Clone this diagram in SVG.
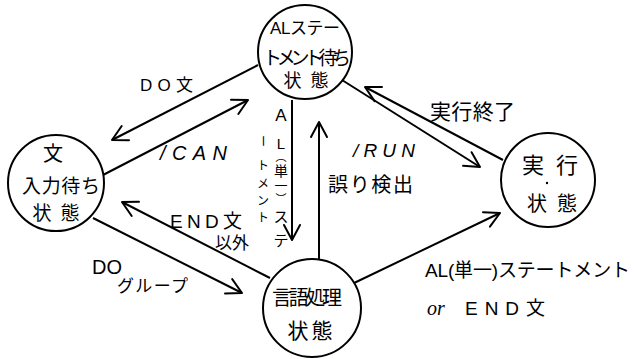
<svg xmlns="http://www.w3.org/2000/svg" width="634" height="359" viewBox="0 0 634 359">
<defs>
<marker id="ah" markerUnits="userSpaceOnUse" markerWidth="24" markerHeight="24" viewBox="-18 -12 24 24" refX="0" refY="0" orient="auto">
<path d="M-15,-8 L0,0 L-15,8" fill="none" stroke="#000" stroke-width="2" stroke-linecap="round" stroke-linejoin="round"/>
</marker>
</defs>
<style>
.n{fill:#fff;stroke:#000;stroke-width:2}
.c{fill:none;stroke:#000;stroke-width:2;marker-end:url(#ah)}
text{font-family:"Liberation Sans","Noto Sans CJK JP",sans-serif;fill:#000}
.m{text-anchor:middle}
.it{font-style:italic}
</style>
<rect width="634" height="359" fill="#fff"/>
<g id="connectors">
<line class="c" x1="258" y1="65" x2="112" y2="140"/>
<line class="c" x1="103" y1="175" x2="248" y2="100"/>
<line class="c" x1="292" y1="100" x2="292" y2="240"/>
<line class="c" x1="319" y1="260" x2="319" y2="122"/>
<line class="c" x1="342" y1="80" x2="480" y2="167"/>
<line class="c" x1="503" y1="160" x2="365" y2="87"/>
<line class="c" x1="93" y1="218" x2="242" y2="293"/>
<line class="c" x1="270" y1="278" x2="122" y2="202"/>
<line class="c" x1="352" y1="284" x2="500" y2="213"/>
<g id="labels">
<text x="140" y="91" font-size="17" textLength="53">DO文</text>
<text x="160" y="160" font-size="20" class="it" textLength="67">/CAN</text>
<text x="353" y="157" font-size="19" class="it" textLength="62">/RUN</text>
<text x="328" y="192" font-size="20" textLength="85">誤り検出</text>
<text x="430" y="119" font-size="21" textLength="85">実行終了</text>
<text x="170" y="228" font-size="19" textLength="72">END文</text>
<text x="215" y="249" font-size="17">以外</text>
<text x="92" y="274" font-size="20">DO</text>
<text x="117" y="292" font-size="17" textLength="71">グループ</text>
<text x="425" y="277" font-size="19" textLength="205">AL(単一)ステートメント</text>
<text x="427" y="315" font-size="20" style="font-family:'Liberation Serif',serif;font-style:italic">or</text>
<text x="465" y="315" font-size="19" textLength="80">END文</text>
<g class="m">
<text x="281" y="121" font-size="17">A</text>
<text x="281" y="149" font-size="15">L</text>
<text x="281" y="161" font-size="11">︵</text>
<text x="281" y="176" font-size="14">単</text>
<text x="281" y="190" font-size="13">一</text>
<text x="281" y="203" font-size="11">︶</text>
<text x="281" y="222" font-size="15">ス</text>
<text x="281" y="246" font-size="15">テ</text>
</g>
<g font-size="12" class="m">
<text x="263" y="146" transform="rotate(90 263 141)">ー</text>
<text x="263" y="170">ト</text>
<text x="263" y="188">メ</text>
<text x="263" y="205">ン</text>
<text x="263" y="222">ト</text>
</g>
</g>
</g>
<g id="n-al">
<circle class="n" cx="305" cy="52" r="47"/>
<text class="m" x="305" y="34" font-size="17" textLength="70">ALステー</text>
<text class="m" x="307" y="65" font-size="19" textLength="88">トメント待ち</text>
<text class="m" x="306" y="87" font-size="18" textLength="45">状態</text>
</g>
<g id="n-input">
<circle class="n" cx="56" cy="183" r="48"/>
<text class="m" x="53" y="161" font-size="20">文</text>
<text class="m" x="61" y="193" font-size="19" textLength="78">入力待ち</text>
<text class="m" x="56" y="220" font-size="19" textLength="47">状態</text>
</g>
<g id="n-exec">
<circle class="n" cx="548" cy="180" r="47"/>
<text class="m" x="550" y="173" font-size="22" textLength="56">実行</text>
<circle cx="547" cy="183" r="1.2" fill="#000"/>
<text class="m" x="552" y="211" font-size="20" textLength="50">状態</text>
</g>
<g id="n-lang">
<circle class="n" cx="312" cy="308" r="49"/>
<text class="m" x="307" y="305" font-size="20" textLength="70">言語処理</text>
<text class="m" x="310" y="338" font-size="21" textLength="45">状態</text>
</g>
</svg>
